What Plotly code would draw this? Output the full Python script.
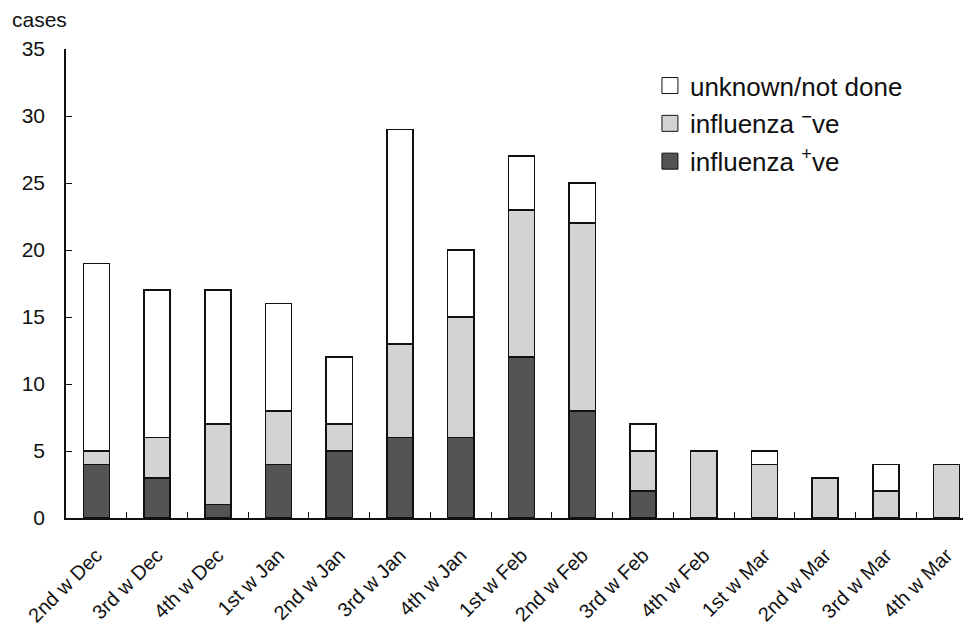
import plotly.graph_objects as go

weeks = ["2nd w Dec", "3rd w Dec", "4th w Dec", "1st w Jan", "2nd w Jan", "3rd w Jan",
         "4th w Jan", "1st w Feb", "2nd w Feb", "3rd w Feb", "4th w Feb", "1st w Mar",
         "2nd w Mar", "3rd w Mar", "4th w Mar"]
flu_pos = [4, 3, 1, 4, 5, 6, 6, 12, 8, 2, 0, 0, 0, 0, 0]
flu_neg = [1, 3, 6, 4, 2, 7, 9, 11, 14, 3, 5, 4, 3, 2, 4]
unknown = [14, 11, 10, 8, 5, 16, 5, 4, 3, 2, 0, 1, 0, 2, 0]
y_ticks = [0, 5, 10, 15, 20, 25, 30, 35]

series = [
    ("influenza <sup>+</sup>ve", flu_pos, "#545454"),
    ("influenza <sup>\u2212</sup>ve", flu_neg, "#d3d3d3"),
    ("unknown/not done", unknown, "#ffffff"),
]

font = "Liberation Sans, Arial, sans-serif"

fig = go.Figure()
for name, vals, color in series:
    # zero-height segments get no outline, so nothing is drawn at the baseline
    widths = [1.5 if v else 0 for v in vals]
    fig.add_trace(go.Bar(x=weeks, y=vals, name=name, showlegend=False,
                         marker=dict(color=color,
                                     line=dict(color="#111111", width=widths))))

# legend entries (top to bottom: unknown, -ve, +ve) with larger square swatches
for i, (name, vals, color) in enumerate(reversed(series)):
    fig.add_trace(go.Scatter(x=[None], y=[None], mode="markers", name=name,
                             legendgroup=f"g{i}",
                             marker=dict(symbol="square", size=16, color=color,
                                         line=dict(color="#111111", width=1))))

fig.update_layout(
    barmode="stack",
    bargap=0.57,
    width=971, height=626,
    paper_bgcolor="white", plot_bgcolor="white",
    margin=dict(l=58, r=2, t=41, b=116, autoexpand=False),
    font=dict(family=font, size=20, color="#111111"),
    showlegend=True,
    legend=dict(traceorder="grouped", x=0.641, y=0.972, xanchor="left", yanchor="top",
                font=dict(size=26), bgcolor="rgba(0,0,0,0)", itemwidth=30,
                tracegroupgap=1),
    annotations=[dict(text="cases", xref="paper", yref="paper",
                      x=-0.0615, y=1.062, xanchor="left", yanchor="middle",
                      showarrow=False, font=dict(size=21))],
)

fig.update_xaxes(type="category", categoryorder="array", categoryarray=weeks,
                 range=[-0.5, len(weeks) - 0.5],
                 showline=True, linecolor="#111111", linewidth=1.5,
                 ticks="inside", tickson="boundaries", ticklen=6, tickcolor="#111111",
                 tickangle=-45, tickfont=dict(size=20), showgrid=False, automargin=False,
                 ticklabelstandoff=16)
fig.update_yaxes(range=[0, 35], tickvals=y_ticks, showline=True, linecolor="#111111",
                 linewidth=1.5, ticks="inside", ticklen=6, tickcolor="#111111",
                 tickfont=dict(size=21), showgrid=False, zeroline=False,
                 ticklabelstandoff=15, automargin=False)

fig.write_html("out.html")
